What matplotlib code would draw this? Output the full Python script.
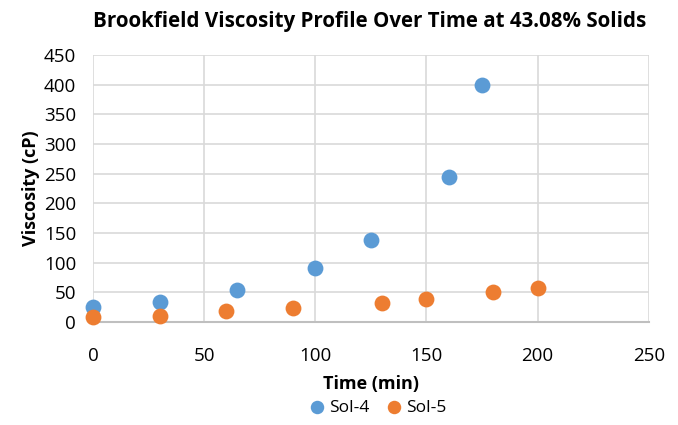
import numpy as np
import matplotlib.pyplot as plt

plt.rcParams['font.family'] = ['Open Sans', 'DejaVu Sans']

time_sol4 = [0, 30, 65, 100, 125, 160, 175]
visc_sol4 = [25, 34, 54, 91, 138, 244, 400]
time_sol5 = [0, 30, 60, 90, 130, 150, 180, 200]
visc_sol5 = [9, 10, 19, 23, 33, 39, 50, 57]

blue = "#5B9BD5"
orange = "#ED7D31"

fig = plt.figure(figsize=(6.78, 4.25), dpi=100)
ax = fig.add_axes([0.137, 0.242, 0.820, 0.629])

ax.scatter(time_sol4, visc_sol4, s=130, color=blue, label="Sol-4", zorder=3, linewidths=0)
ax.scatter(time_sol5, visc_sol5, s=130, color=orange, label="Sol-5", zorder=3, linewidths=0)

ax.set_xlim(0, 250)
ax.set_ylim(0, 450)
ax.set_xticks(np.arange(0, 251, 50))
ax.set_yticks(np.arange(0, 451, 50))
ax.grid(True, color="#D9D9D9", linewidth=1.2)
ax.set_axisbelow(True)
for s in ["top", "right", "left"]:
    ax.spines[s].set_visible(False)
ax.spines["bottom"].set_color("#BFBFBF")
ax.spines["bottom"].set_linewidth(1.5)
ax.tick_params(length=0, labelsize=13.5, colors="#000000", pad=12)
ax.tick_params(axis="x", pad=18)
for c in ax.collections:
    c.set_clip_on(False)

fig.text(0.547, 0.096, "Time (min)", fontsize=13, fontweight="bold",
         ha="center", va="center")
ax.set_ylabel("Viscosity (cP)", fontsize=13, fontweight="bold", labelpad=3)
fig.suptitle("Brookfield Viscosity Profile Over Time at 43.08% Solids",
             fontsize=14.8, fontweight="bold", x=0.545, y=0.975)

fig.legend(loc="lower center", ncol=2, frameon=False, fontsize=12.5,
           bbox_to_anchor=(0.55, -0.015), handletextpad=-0.3, columnspacing=0.4,
           markerscale=0.85)

plt.savefig("out.png", dpi=100)
plt.close(fig)
